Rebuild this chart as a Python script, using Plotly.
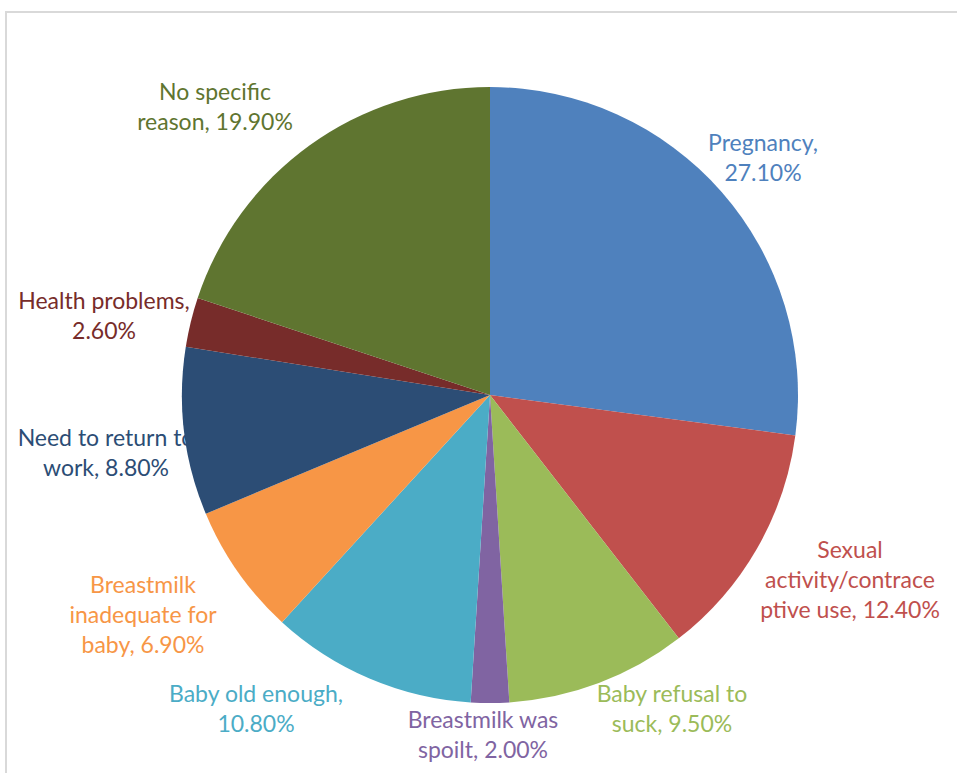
import plotly.graph_objects as go

categories = ["Pregnancy", "Sexual activity/contraceptive use", "Baby refusal to suck",
              "Breastmilk was spoilt", "Baby old enough", "Breastmilk inadequate for baby",
              "Need to return to work", "Health problems", "No specific reason"]
values = [27.1, 12.4, 9.5, 2.0, 10.8, 6.9, 8.8, 2.6, 19.9]
colors = ["#4F81BD", "#C0504D", "#9BBB59", "#8064A2", "#4BACC6", "#F79646",
          "#2C4D75", "#772C2A", "#5F7530"]
label_texts = ["Pregnancy,<br>27.10%",
               "Sexual<br>activity/contrace<br>ptive use, 12.40%",
               "Baby refusal to<br>suck, 9.50%",
               "Breastmilk was<br>spoilt, 2.00%",
               "Baby old enough,<br>10.80%",
               "Breastmilk<br>inadequate for<br>baby, 6.90%",
               "Need to return to<br>work, 8.80%",
               "Health problems,<br>2.60%",
               "No specific<br>reason, 19.90%"]
# label centers in pixels (x from left, y from top)
label_x = [763, 850, 672, 483, 256, 143, 106, 104, 215]
label_y = [160, 582, 711, 737, 711, 617, 455, 318, 109]

W, H = 957, 773
cx, cy, r = 490, 395, 308

fig = go.Figure()

# labels drawn in a cartesian layer (below the pie, so the pie may overlap them)
fig.add_trace(go.Scatter(
    x=label_x, y=label_y, mode="text", text=label_texts,
    textposition="middle center",
    textfont=dict(family="Lato", size=23, color=colors),
    hoverinfo="skip", showlegend=False,
))

fig.add_trace(go.Pie(
    labels=categories, values=values, sort=False, direction="clockwise", rotation=0,
    marker=dict(colors=colors, line=dict(width=0)),
    textinfo="none", hoverinfo="none", showlegend=False,
    domain=dict(x=[(cx - r) / W, (cx + r) / W], y=[(H - cy - r) / H, (H - cy + r) / H]),
))

fig.add_shape(type="rect", xref="paper", yref="paper",
              x0=6 / W, x1=1.02, y0=-0.02, y1=1 - 12 / H,
              line=dict(color="#D9D9D9", width=2), layer="below")

fig.update_layout(width=W, height=H, margin=dict(l=0, r=0, t=0, b=0),
                  paper_bgcolor="white", plot_bgcolor="rgba(0,0,0,0)",
                  xaxis=dict(range=[0, W], visible=False, fixedrange=True),
                  yaxis=dict(range=[H, 0], visible=False, fixedrange=True))
fig.write_html("out.html")
